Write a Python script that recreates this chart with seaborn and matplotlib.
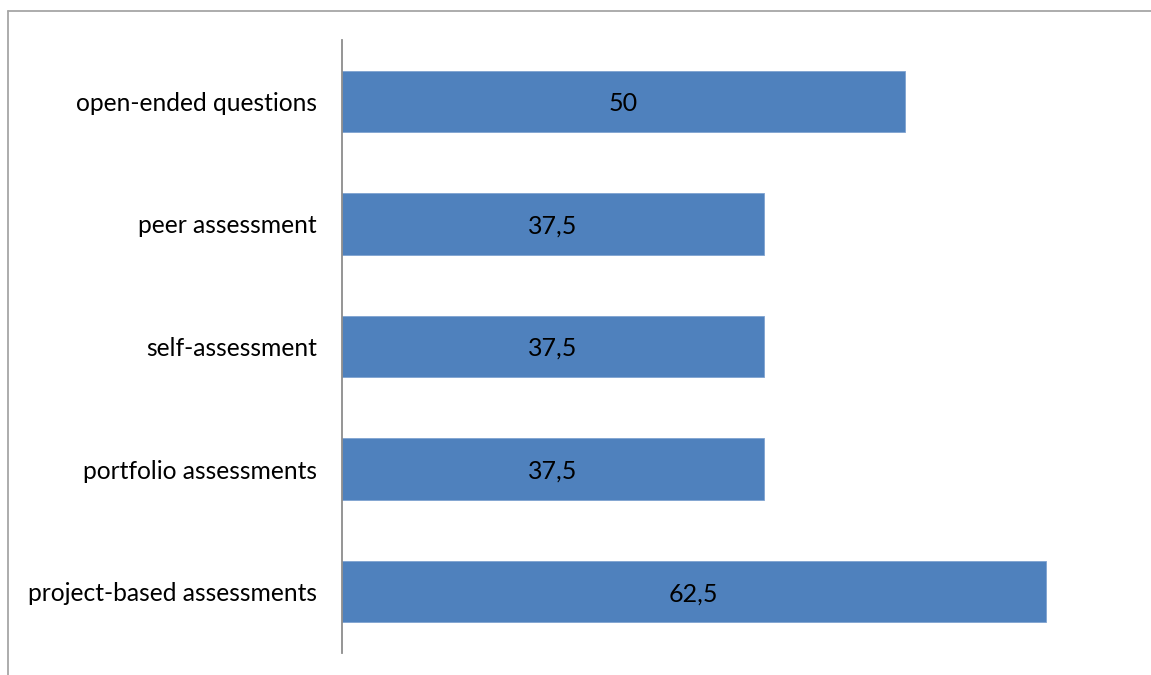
import matplotlib
matplotlib.use("Agg")
import matplotlib.pyplot as plt
from matplotlib.lines import Line2D
import seaborn as sns
import pandas as pd

categories = [
    "open-ended questions",
    "peer assessment",
    "self-assessment",
    "portfolio assessments",
    "project-based assessments",
]
values = [50, 37.5, 37.5, 37.5, 62.5]
value_labels = ["50", "37,5", "37,5", "37,5", "62,5"]

df = pd.DataFrame({"category": categories, "value": values})

sns.set_theme(style="white")
plt.rcParams["font.family"] = ["Lato", "DejaVu Sans"]

fig = plt.figure(figsize=(11.51, 6.75), dpi=100)
ax = fig.add_axes([342 / 1151, 1 - 653 / 675, (1130 - 342) / 1151, (653 - 40) / 675])

sns.barplot(data=df, x="value", y="category", orient="h", color="#4F81BD",
            saturation=1, width=0.5, edgecolor="#7FA3D1", linewidth=0.6, ax=ax)

for i, (v, lab) in enumerate(zip(values, value_labels)):
    ax.text(v / 2, i, lab, ha="center", va="center_baseline", fontsize=18,
            color="#000000")

ax.set_xlim(0, 70)
ax.set_ylim(4.5, -0.5)
ax.set_xlabel("")
ax.set_ylabel("")
ax.set_xticks([])
ax.tick_params(axis="y", length=0, pad=18, labelsize=17.7, labelcolor="#000000")
for s in ["top", "right", "bottom"]:
    ax.spines[s].set_visible(False)
ax.spines["left"].set_color("#8c8c8c")
ax.spines["left"].set_linewidth(1.3)

# outer frame: top and left edges only
fig.add_artist(Line2D([8 / 1151, 1], [1 - 11 / 675, 1 - 11 / 675],
                      transform=fig.transFigure, color="#a6a6a6", linewidth=1.3))
fig.add_artist(Line2D([8 / 1151, 8 / 1151], [0, 1 - 11 / 675],
                      transform=fig.transFigure, color="#a6a6a6", linewidth=1.3))

fig.savefig("out.png", dpi=100)
